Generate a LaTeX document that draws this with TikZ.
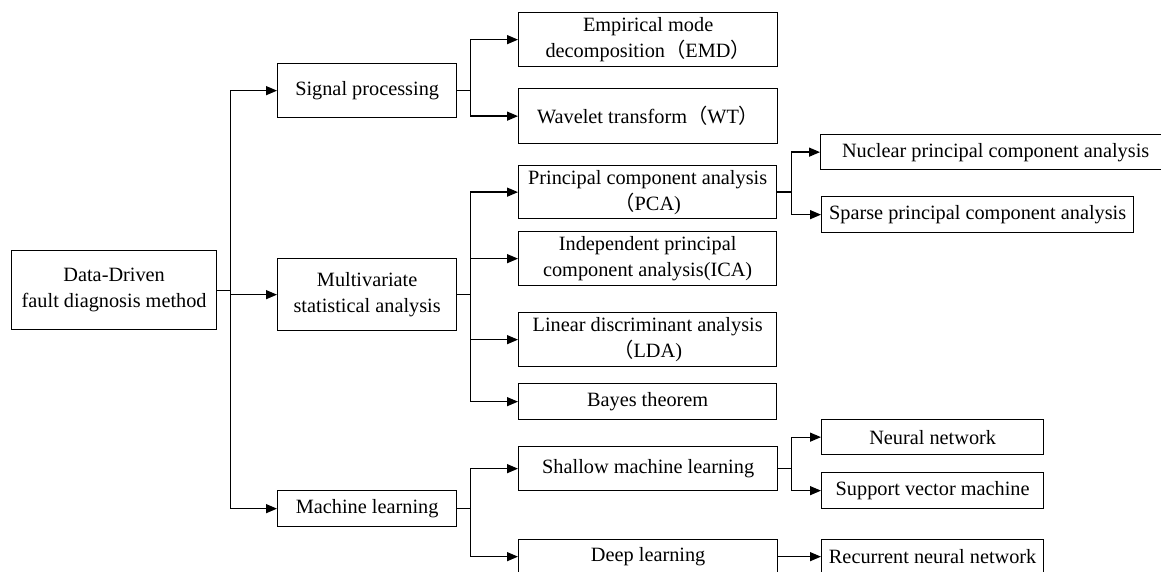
\documentclass[tikz,border=0pt]{standalone}
\usepackage{fontspec}
\setmainfont{Liberation Serif}
\newfontfamily\cjk{Noto Sans CJK SC}
\usetikzlibrary{arrows.meta}
\newcommand{\lp}{{\cjk （}}
\newcommand{\rp}{{\cjk ）}}
\tikzset{
  box/.style={draw, line width=1.3pt, inner sep=0pt, anchor=north west,
    align=center, font=\fontsize{20.3}{26}\selectfont},
  link/.style={line width=1.3pt},
  arr/.style={link, -{Triangle[length=11pt,width=9pt]}}
}
% box at top-left corner (x,y) with given width and height
\newcommand{\bx}[6]{\node[box, minimum width=#4pt, minimum height=#5pt] (#1) at (#2,#3) {#6};}
\begin{document}
\begin{tikzpicture}[x=1pt,y=-1pt]
\clip (0,0) rectangle (1161,572);
\fill[white] (0,0) rectangle (1161,572);

% root
\bx{root}{11}{250}{205}{79}{Data-Driven\\fault diagnosis method}
% first level
\bx{sp}{277}{63}{179}{54}{Signal processing}
\bx{msa}{277}{258}{179}{72}{Multivariate\\statistical analysis}
\bx{ml}{277}{490}{179}{36}{Machine learning}
% second level
\bx{emd}{518}{12}{259}{54}{Empirical mode\\decomposition\lp EMD\rp}
\bx{wt}{518}{88}{259}{55}{Wavelet transform\lp WT\rp}
\bx{pca}{518}{165}{258}{53}{Principal component analysis\\\lp PCA)}
\bx{ica}{518}{231}{258}{54}{Independent principal\\component analysis(ICA)}
\bx{lda}{518}{312}{258}{54}{Linear discriminant analysis\\\lp LDA)}
\bx{bayes}{518}{383}{258}{36}{Bayes theorem}
\bx{shallow}{518}{446}{259}{44}{Shallow machine learning}
\bx{deep}{518}{539}{259}{34}{Deep learning}
% third level
\bx{npca}{820}{134}{350}{35}{Nuclear principal component analysis}
\bx{spca}{821}{196}{312}{36}{Sparse principal component analysis}
\bx{nn}{821}{419}{222}{35}{Neural network}
\bx{svm}{821}{472}{222}{36}{Support vector machine}
\bx{rnn}{821}{539}{222}{34}{Recurrent neural network}

% root branches
\draw[link] (root.east) -- ++(13,0) coordinate (j0);
\draw[arr] (j0) |- (sp.west);
\draw[arr] (j0) |- (ml.west);
\draw[arr] (j0 |- msa.west) -- (msa.west);

% signal processing branches
\draw[link] (sp.east) -- ++(13,0) coordinate (js);
\draw[arr] (js) |- (emd.west);
\draw[arr] (js) |- (wt.west);

% multivariate branches
\draw[link] (msa.east) -- ++(13,0) coordinate (jm);
\draw[arr] (jm) |- (pca.west);
\draw[arr] (jm) |- (ica.west);
\draw[arr] (jm) |- (lda.west);
\draw[arr] (jm) |- (bayes.west);

% machine learning branches
\draw[link] (ml.east) -- ++(13,0) coordinate (jl);
\draw[arr] (jl) |- (shallow.west);
\draw[arr] (jl) |- (deep.west);

% PCA variants
\draw[link] (pca.east) -- ++(14,0) coordinate (jp);
\draw[arr] (jp) |- (npca.west);
\draw[arr] (jp) |- (spca.west);

% shallow learning methods
\draw[link] (shallow.east) -- ++(13,0) coordinate (jh);
\draw[arr] (jh) |- (nn.west);
\draw[arr] (jh) |- (svm.west);

% deep learning method
\draw[arr] (deep.east) -- (rnn.west);
\end{tikzpicture}
\end{document}
